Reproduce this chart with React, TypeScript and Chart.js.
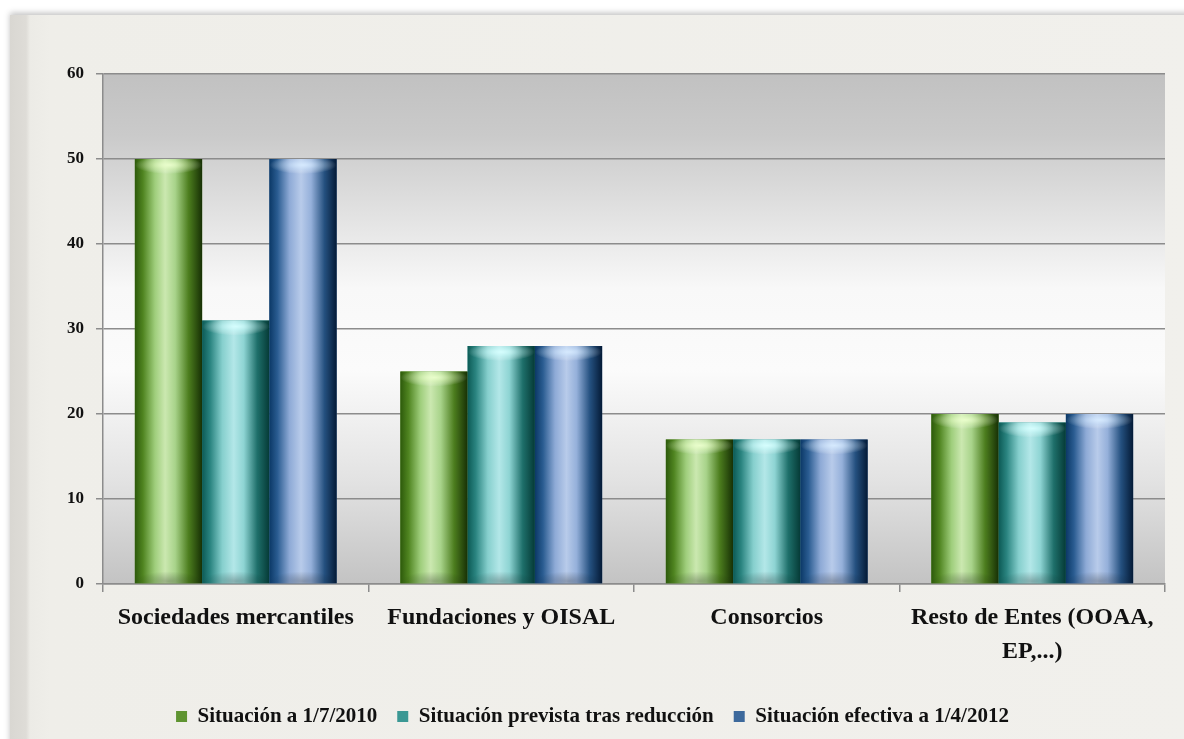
import React, { useEffect, useRef } from "react";
import { Chart, registerables } from "chart.js";

Chart.register(...registerables);

// ---- data ----
const categories: string[][] = [
  ["Sociedades mercantiles"],
  ["Fundaciones y OISAL"],
  ["Consorcios"],
  ["Resto de Entes (OOAA,", "EP,...)"],
];
const seriesNames = [
  "Situación a 1/7/2010",
  "Situación prevista tras reducción",
  "Situación efectiva a 1/4/2012",
];
const situacion2010 = [50, 25, 17, 20];
const situacionPrevista = [31, 28, 17, 19];
const situacionEfectiva2012 = [50, 28, 17, 20];
const yMin = 0;
const yMax = 60;
const yStep = 10;

// ---- styles ----
const seriesStops: [number, string][][] = [
  [
    [0, "#2d5a0b"],
    [0.12, "#4f8420"],
    [0.3, "#9fce7c"],
    [0.45, "#cbe8b0"],
    [0.6, "#a8d38a"],
    [0.8, "#4c7d1e"],
    [1, "#173005"],
  ],
  [
    [0, "#0c5a55"],
    [0.12, "#2a8480"],
    [0.3, "#86cfcd"],
    [0.47, "#b3e7e8"],
    [0.62, "#8ed4d3"],
    [0.82, "#1e6f6a"],
    [1, "#053a36"],
  ],
  [
    [0, "#0b3866"],
    [0.12, "#2a5c91"],
    [0.3, "#8eaad6"],
    [0.47, "#b8cbea"],
    [0.62, "#95b0da"],
    [0.82, "#24507f"],
    [1, "#041a36"],
  ],
];
const capColors = ["rgba(235,255,205,0.95)", "rgba(215,255,255,0.95)", "rgba(215,235,255,0.95)"];
const legendColors = ["#5f9431", "#3b9894", "#3d699c"];
const fontFamily = "'Liberation Serif', 'DejaVu Serif', serif";

const plotBackground = {
  id: "plotBackground",
  beforeDraw(chart: any) {
    const { ctx, chartArea: a } = chart;
    const g = ctx.createLinearGradient(0, a.top, 0, a.bottom);
    g.addColorStop(0, "#c1c1c1");
    g.addColorStop(0.12, "#cacaca");
    g.addColorStop(0.42, "#f8f8f8");
    g.addColorStop(0.58, "#fbfbfb");
    g.addColorStop(0.8, "#e2e2e2");
    g.addColorStop(1, "#c3c3c3");
    ctx.save();
    ctx.fillStyle = g;
    ctx.fillRect(a.left, a.top, a.right - a.left, a.bottom - a.top);
    ctx.restore();
  },
};

const cylinderBars = {
  id: "cylinderBars",
  afterDatasetsDraw(chart: any) {
    const { ctx } = chart;
    chart.data.datasets.forEach((_: any, di: number) => {
      const meta = chart.getDatasetMeta(di);
      if (meta.hidden) return;
      meta.data.forEach((el: any) => {
        const { x, y, base, width } = el.getProps(["x", "y", "base", "width"], true);
        const left = x - width / 2;
        const h = base - y;
        ctx.save();
        const g = ctx.createLinearGradient(left, 0, left + width, 0);
        seriesStops[di].forEach(([o, c]) => g.addColorStop(o, c));
        ctx.fillStyle = g;
        ctx.fillRect(left, y, width, h);
        ctx.beginPath();
        ctx.rect(left, y, width, h);
        ctx.clip();
        // top cap highlight
        ctx.save();
        ctx.translate(x, y + 6);
        ctx.scale(width / 2, 9);
        const rg = ctx.createRadialGradient(0, 0, 0, 0, 0, 1);
        rg.addColorStop(0, capColors[di]);
        rg.addColorStop(0.5, capColors[di].replace("0.95", "0.45"));
        rg.addColorStop(1, "rgba(255,255,255,0)");
        ctx.fillStyle = rg;
        ctx.beginPath();
        ctx.arc(0, 0, 1, 0, Math.PI * 2);
        ctx.fill();
        ctx.restore();
        // bottom shading
        ctx.save();
        ctx.translate(x, base - 2);
        ctx.scale(width / 2, 10);
        const bg = ctx.createRadialGradient(0, 0, 0, 0, 0, 1);
        bg.addColorStop(0, "rgba(0,0,0,0.25)");
        bg.addColorStop(1, "rgba(0,0,0,0)");
        ctx.fillStyle = bg;
        ctx.beginPath();
        ctx.arc(0, 0, 1, 0, Math.PI * 2);
        ctx.fill();
        ctx.restore();
        ctx.restore();
      });
    });
  },
};

export default function App() {
  const canvasRef = useRef<HTMLCanvasElement | null>(null);

  useEffect(() => {
    if (!canvasRef.current) return;
    const chart = new Chart(canvasRef.current, {
      type: "bar",
      data: {
        labels: categories,
        datasets: [
          { label: seriesNames[0], data: situacion2010, backgroundColor: legendColors[0] },
          { label: seriesNames[1], data: situacionPrevista, backgroundColor: legendColors[1] },
          { label: seriesNames[2], data: situacionEfectiva2012, backgroundColor: legendColors[2] },
        ],
      },
      options: {
        responsive: false,
        animation: false,
        maintainAspectRatio: false,
        datasets: { bar: { categoryPercentage: 0.76, barPercentage: 1.0, borderWidth: 0 } },
        layout: { padding: { top: 74, left: 20, right: 19, bottom: 2 } },
        plugins: {
          legend: {
            position: "bottom",
            labels: {
              boxWidth: 11,
              boxHeight: 11,
              padding: 20,
              color: "#111",
              font: { family: fontFamily, size: 21, weight: "bold" },
            },
          },
          tooltip: { enabled: false },
        },
        scales: {
          x: {
            grid: {
              drawOnChartArea: false,
              drawTicks: true,
              tickLength: 8,
              color: "#8c8c8c",
              lineWidth: 1.5,
            },
            border: { color: "#8c8c8c", width: 1.5 },
            ticks: {
              padding: 9,
              color: "#111",
              maxRotation: 0,
              font: { family: fontFamily, size: 24, weight: "bold", lineHeight: 1.42 },
            },
            afterFit: (s: any) => {
              s.height = 102;
            },
          },
          y: {
            min: yMin,
            max: yMax,
            grid: { color: "#8c8c8c", lineWidth: 1.5, tickLength: 7 },
            border: { color: "#8c8c8c", width: 1.5 },
            ticks: {
              stepSize: yStep,
              padding: 12,
              color: "#111",
              font: { family: fontFamily, size: 17, weight: "bold" },
            },
            afterFit: (s: any) => {
              s.width = 83;
            },
          },
        },
      },
      plugins: [plotBackground, cylinderBars],
    });
    return () => chart.destroy();
  }, []);

  return (
    <div
      style={{
        position: "fixed",
        left: 0,
        top: 0,
        width: 1184,
        height: 739,
        background: "#ffffff",
        overflow: "hidden",
      }}
    >
      <div
        style={{
          position: "absolute",
          left: 10,
          top: 15,
          width: 1200,
          height: 760,
          background:
            "linear-gradient(90deg, #d9d7d2 0px, #dedcd7 16px, #ecebe6 20px, #efeee9 40px, #f1f0ec 100%)",
          boxShadow: "0 -2px 6px rgba(0,0,0,0.25)",
        }}
      />
      <canvas
        ref={canvasRef}
        width={1184}
        height={739}
        style={{ position: "absolute", left: 0, top: 0 }}
      />
    </div>
  );
}
